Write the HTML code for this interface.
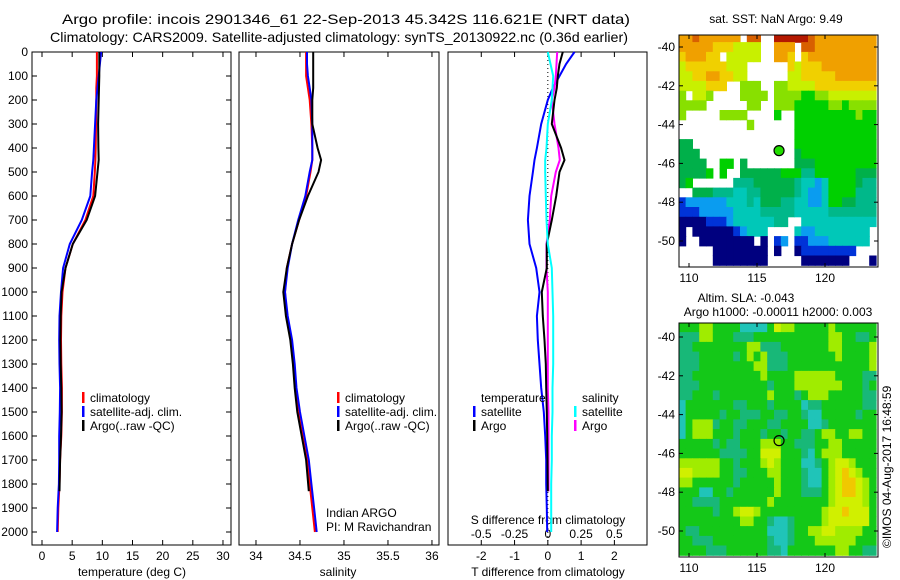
<!DOCTYPE html>
<html><head><meta charset="utf-8"><style>
html,body{margin:0;padding:0;background:#fff;}
svg{display:block;font-family:"Liberation Sans",sans-serif;}
text{fill:#000;}
</style></head><body>
<svg id="fig" width="900" height="580" viewBox="0 0 900 580">
<g>
<text x="62" y="24" font-size="14" textLength="568" lengthAdjust="spacingAndGlyphs">Argo profile: incois 2901346_61 22-Sep-2013 45.342S 116.621E (NRT data)</text>
<text x="50" y="42" font-size="14" textLength="578" lengthAdjust="spacingAndGlyphs">Climatology: CARS2009. Satellite-adjusted climatology: synTS_20130922.nc (0.36d earlier)</text>
</g>
<g id="layer"></g>
<text x="776" y="23" font-size="12" text-anchor="middle">sat. SST: NaN Argo: 9.49</text>
<text x="746" y="302" font-size="12" text-anchor="middle">Altim. SLA: -0.043</text>
<text x="778" y="316" font-size="12" text-anchor="middle">Argo h1000: -0.00011 h2000: 0.003</text>
<text x="0" y="0" font-size="12" transform="translate(891,548) rotate(-90)">©IMOS 04-Aug-2017 16:48:59</text>
</svg>
<script>
// ---------- profile data ----------
const depths = [0,50,100,150,200,300,400,450,500,600,700,800,900,1000,1100,1200,1300,1400,1500,1600,1700,1800,1900,2000];
const argoDepths = [0,50,100,150,200,300,400,450,500,600,700,800,900,1000,1100,1200,1300,1400,1500,1600,1700,1830];
const tClim = [9.1,9.1,9.1,9.0,9.0,8.95,8.9,8.85,8.75,8.5,7.2,5.1,3.9,3.4,3.2,3.15,3.2,3.3,3.3,3.2,3.0,2.9,2.7,2.6];
const tSat  = [9.8,9.6,9.4,9.2,9.0,8.8,8.6,8.5,8.3,8.0,6.6,4.6,3.5,3.15,2.9,2.85,2.9,3.0,2.95,2.85,2.85,2.8,2.6,2.5];
const tArgo = [9.5,9.5,9.5,9.45,9.4,9.3,9.35,9.4,9.2,8.8,7.4,5.1,3.9,3.25,3.1,3.05,3.1,3.2,3.25,3.15,3.0,2.9];
const sClim = [34.57,34.57,34.57,34.59,34.61,34.63,34.64,34.64,34.62,34.57,34.49,34.41,34.35,34.33,34.35,34.40,34.43,34.45,34.48,34.53,34.58,34.61,34.64,34.67];
const sSat  = [34.58,34.58,34.59,34.61,34.63,34.64,34.64,34.64,34.61,34.56,34.48,34.41,34.36,34.33,34.36,34.41,34.44,34.46,34.50,34.55,34.60,34.63,34.66,34.69];
const sArgo = [34.65,34.65,34.65,34.65,34.64,34.64,34.70,34.74,34.71,34.59,34.49,34.41,34.35,34.31,34.34,34.39,34.42,34.44,34.47,34.52,34.57,34.60];
const tSatDiff  = [0.8,0.55,0.35,0.15,0,-0.2,-0.33,-0.4,-0.45,-0.55,-0.6,-0.55,-0.35,-0.25,-0.33,-0.3,-0.25,-0.2,-0.12,-0.08,-0.05,-0.05,-0.03,-0.02];
const tArgoDiff = [0.45,0.35,0.3,0.27,0.2,0.12,0.4,0.5,0.35,0.25,0.12,-0.03,-0.03,-0.18,-0.15,-0.1,-0.06,-0.05,-0.03,-0.02,-0.01,0];
const sSatDiff  = [0,0.02,0.04,0.035,0.03,0.0,-0.01,-0.02,-0.02,-0.015,-0.01,0.0,0.03,0.035,0.04,0.04,0.04,0.035,0.035,0.03,0.03,0.025,0.025,0.025];
const sArgoDiff = [0.07,0.065,0.06,0.05,0.03,0.05,0.08,0.09,0.06,0.025,0.015,-0.01,-0.01,0,0,0,0,0,0.005,0.005,0.005,0.005];
const depthTicks = [0,100,200,300,400,500,600,700,800,900,1000,1100,1200,1300,1400,1500,1600,1700,1800,1900,2000];
const tTicks = [0,5,10,15,20,25,30];
const sTicks = [34,34.5,35,35.5,36];
const tdTicks = [-2,-1,0,1,2];
const sdTicks = [-0.5,-0.25,0,0.25,0.5];
const sdTickLabels = ["-0.5","-0.25","0","0.25","0.5"];
// ---------- map data ----------
const mapLats = [-40,-42,-44,-46,-48,-50];
const mapLons = [110,115,120];
const sstRows = [
"AABAAAAAA.BB..CCCCCBAAAAAAAAA",
"AAAAA9998888..AAA.BBAAAAAAAAA",
"9AAA99.88888..AA9.9AAAAAAAAAA",
"8999999888......98999AAAAAAAA",
"8899AA9988......8899999AAAAAA",
"8888999..777..778888999999999",
"7.887....7777.777766778888888",
"7777......77..777666667767777",
"7.....7777....6..666666666766",
"..........7......666666666666",
".................666666666666",
"55...............666666666666",
"555..............566666666666",
"5555..66.5.......555666666666",
"55556.6..55555566644666666555",
"56......444555555433236666544",
"..555444334455555432236666444",
"12222223334355544332236655444",
"11122222333344444333334444444",
"0000111233333344..33333333333",
"0.00000012333....32233333333.",
"0..00000000.0.12.11222333333.",
".....00000000.0..011111111...",
".....00000000.....0000000...0"];
const slaRows = [
"gggyyggggccccgYyygggggygggggg",
"tttyygggtttgggggggggggyyggttg",
"ttggggggggyytttgggggggyyggggy",
"tttgggggtgygytttgggggggyggggy",
"tttggggggggyytttggggggggggggy",
"ttggggggggggyggggyyyyyyggggtt",
"tttggggggggggtgggyyyyyyygggtg",
"ttgggtgggggggygggtgyyygggggtt",
"cgggggggttgggtggggcttggggggtt",
"cgggggtggtttggttggtccgggggtgg",
"cgyyytggttgggttggggcctggggggg",
"cgyyygggtgggtggtggttgyyggyygg",
"gggggtgttgggyyyggtttggyyggggg",
"ggggggttttggYYYgggtcgyyyggggg",
"yyyyyyggtgggyYygggcctgyYYyggg",
"YYyyyyggttgggyygggtccgyYoYygg",
"yyggggggtgggggygggtccgyYooYyg",
"gggccggtggggggygggtttgyYooYyg",
"ggttttgggggggyggggggggyYYYYyg",
"gggggtggyYYygggggggggyYYoYYYg",
"gggggggggyyggtcctggggyYYYYYYg",
"gttggggggggggccctggyyYYyyyygg",
"ggtttggggggggtcctgggyyyyyyggg",
"ggggtttggggggttcgggggggyyggtt"];
const argoLon = 116.621, argoLat = -45.342;
const gridLon0 = 109.25, gridLat0 = -39.25, gridStep = 0.5;

const sstColor = {"0":"#00007f","1":"#0033d8","2":"#0a9cf0","3":"#00c8b8","4":"#00b88a","5":"#00b04a","6":"#00d000","7":"#88e000","8":"#c8f000","9":"#f0d000","A":"#f0a000","B":"#d86000","C":"#b41800"};
const slaColor = {"g":"#14c818","t":"#18b878","c":"#20c4b8","y":"#a0ec00","Y":"#d0f000","o":"#f0c800"};

const NS="http://www.w3.org/2000/svg";
const layer=document.getElementById('layer');
function mk(tag,attrs,parent){const e=document.createElementNS(NS,tag);for(const k in attrs)e.setAttribute(k,attrs[k]);(parent||layer).appendChild(e);return e;}

const TOP=52, PXD=0.24, BOT=545;
function yD(d){return TOP+d*PXD;}

const panels=[
 {name:'temperature',x0:32,x1:231,vmin:-1.66,vmax:31.33},
 {name:'salinity',x0:239,x1:439,vmin:33.807,vmax:36.08},
 {name:'difference',x0:448,x1:647,vmin:-3.0,vmax:2.98}
];
function xs(p,v){return p.x0+(v-p.vmin)/(p.vmax-p.vmin)*(p.x1-p.x0);}
const pT=panels[0],pS=panels[1],pD=panels[2];
const pSd={x0:pD.x0,x1:pD.x1,vmin:-3.0/4,vmax:2.98/4};

function line(p,xv,dv,color,name,dash){
 const pts=xv.map((v,i)=>xs(p,v).toFixed(1)+','+yD(dv[i]).toFixed(1)).join(' ');
 const e=mk('polyline',{points:pts,fill:'none',stroke:color,'stroke-width':2});
 if(dash)e.setAttribute('stroke-dasharray',dash);
 
 
}

panels.forEach((p,pi)=>{
 const g=mk('rect',{x:p.x0,y:TOP,width:p.x1-p.x0,height:BOT-TOP,fill:'none',stroke:'#000','stroke-width':1});
 
 
});
depthTicks.forEach(d=>{
 const t=mk('text',{x:28,y:yD(d)+4,'font-size':12,'text-anchor':'end'});
 t.textContent=d;
 
 
 mk('line',{x1:pT.x0,x2:pT.x0+5,y1:yD(d),y2:yD(d),stroke:'#000'});
 mk('line',{x1:pT.x1-5,x2:pT.x1,y1:yD(d),y2:yD(d),stroke:'#000'});
});
function xticks(p,ticks,labels,yLab,name){
 ticks.forEach((v,i)=>{
  const x=xs(p,v);
  mk('line',{x1:x,x2:x,y1:TOP,y2:TOP+5,stroke:'#000'});
  mk('line',{x1:x,x2:x,y1:BOT-5,y2:BOT,stroke:'#000'});
  const t=mk('text',{x:x,y:yLab,'font-size':12,'text-anchor':'middle'});
  t.textContent=labels?labels[i]:v;
  
  
 });
}
xticks(pT,tTicks,null,560,'temperature-tick-label');
xticks(pS,sTicks,null,560,'salinity-tick-label');
xticks(pD,tdTicks,null,560,'t-diff-tick-label');
sdTicks.forEach((v,i)=>{
 const t=mk('text',{x:xs(pSd,v),y:538,'font-size':12,'text-anchor':'middle'});
 t.textContent=sdTickLabels[i];
 
 
});
function label(x,y,s,name,anchor,size){const t=mk('text',{x:x,y:y,'font-size':size||12,'text-anchor':anchor||'start'});t.textContent=s;return t;}
label(132,576,'temperature (deg C)','temperature-axis-title','middle');
label(338,576,'salinity','salinity-axis-title','middle');
label(548,576,'T difference from climatology','t-diff-axis-title','middle');
label(548,524,'S difference from climatology','s-diff-axis-title','middle');
label(326,517,'Indian ARGO','institution-label');
label(326,531,'PI: M Ravichandran','pi-label');

const z=mk('line',{x1:xs(pD,0),x2:xs(pD,0),y1:TOP,y2:BOT,stroke:'#000','stroke-dasharray':'1,3','stroke-width':1});



line(pT,tClim,depths,'#ff0000','temperature-climatology-line');
line(pT,tSat,depths,'#0000ff','temperature-satellite-line');
line(pT,tArgo,argoDepths,'#000000','temperature-argo-line');
line(pS,sClim,depths,'#ff0000','salinity-climatology-line');
line(pS,sSat,depths,'#0000ff','salinity-satellite-line');
line(pS,sArgo,argoDepths,'#000000','salinity-argo-line');
line(pD,tSatDiff,depths,'#0000ff','t-diff-satellite-line');
line(pSd,sArgoDiff,argoDepths,'#ff00ff','s-diff-argo-line');
line(pD,tArgoDiff,argoDepths,'#000000','t-diff-argo-line');
line(pSd,sSatDiff,depths,'#00ffff','s-diff-satellite-line');

function legend(x,y,color,s,name){
 const b=mk('rect',{x:x,y:y-10,width:2.5,height:11,fill:color});
 
 
 label(x+8,y,s,name+'-label');
}
[82,337].forEach(lx=>{
 legend(lx,402,'#ff0000','climatology','legend-climatology');
 legend(lx,416,'#0000ff','satellite-adj. clim.','legend-satellite-adj');
 legend(lx,430,'#000000','Argo(..raw -QC)','legend-argo');
});
label(481,402,'temperature','legend-temperature-heading');
legend(473,416,'#0000ff','satellite','legend-t-satellite');
legend(473,430,'#000000','Argo','legend-t-argo');
label(582,402,'salinity','legend-salinity-heading');
legend(574,416,'#00ffff','satellite','legend-s-satellite');
legend(574,430,'#ff00ff','Argo','legend-s-argo');

function drawMap(box,rows,cmap,name,filledMarker){
 const lonS=13.6, latS=19.4;
 const mx=lon=>box.x110+(lon-110)*lonS;
 const my=lat=>box.y40+(-40-lat)*latS;
 const g=mk('g',{});
 
 
 const cp=mk('clipPath',{id:name+'-clip'},g);
 mk('rect',{x:box.x0,y:box.y0,width:box.x1-box.x0,height:box.y1-box.y0},cp);
 const cells=mk('g',{'clip-path':'url(#'+name+'-clip)'},g);
 rows.forEach((r,j)=>{
  for(let i=0;i<r.length;i++){
   const c=cmap[r[i]]; if(!c) continue;
   const lon=gridLon0+i*gridStep, lat=gridLat0-j*gridStep;
   const x=mx(lon), y=my(lat);
   const e=mk('rect',{x:x.toFixed(1),y:y.toFixed(1),width:(gridStep*lonS+0.6).toFixed(1),height:(gridStep*latS+0.6).toFixed(1),fill:c},cells);
   
   
  }
 });
 mk('rect',{x:box.x0,y:box.y0,width:box.x1-box.x0,height:box.y1-box.y0,fill:'none',stroke:'#000'},g);
 mapLats.forEach(l=>{
  const y=my(l);
  mk('line',{x1:box.x0,x2:box.x0+4,y1:y,y2:y,stroke:'#000'},g);
  mk('line',{x1:box.x1-4,x2:box.x1,y1:y,y2:y,stroke:'#000'},g);
  const t=mk('text',{x:box.x0-4,y:y+4,'font-size':12,'text-anchor':'end'},g);
  t.textContent=l;
  
  
 });
 mapLons.forEach(l=>{
  const x=mx(l);
  mk('line',{x1:x,x2:x,y1:box.y0,y2:box.y0+4,stroke:'#000'},g);
  mk('line',{x1:x,x2:x,y1:box.y1-4,y2:box.y1,stroke:'#000'},g);
  const t=mk('text',{x:x,y:box.y1+15,'font-size':12,'text-anchor':'middle'},g);
  t.textContent=l;
  
  
 });
 const m=mk('circle',{cx:mx(argoLon),cy:my(argoLat),r:5,fill:filledMarker?'#22dd00':'none',stroke:'#000','stroke-width':1.2},g);
 
 
}
drawMap({x0:679,x1:878,y0:35,y1:267,x110:689,y40:47},sstRows,sstColor,'sst-map',true);
drawMap({x0:679,x1:878,y0:323,y1:557,x110:689,y40:337},slaRows,slaColor,'sla-map',false);
</script>
</body></html>
